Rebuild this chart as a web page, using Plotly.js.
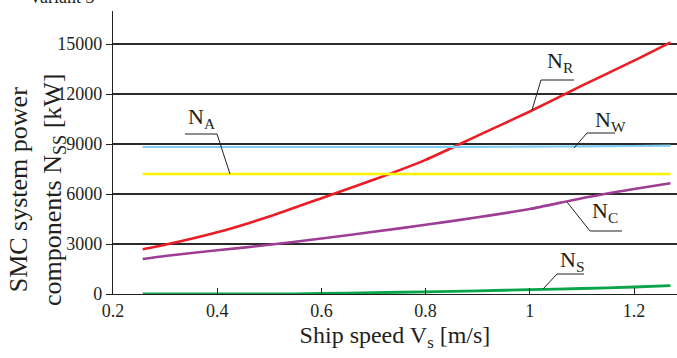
<!DOCTYPE html>
<html>
<head>
<meta charset="utf-8">
<script src="https://cdn.plot.ly/plotly-3.0.1.min.js"></script>
<style>html,body{margin:0;padding:0;background:#fff;}#chart{width:677px;height:358px;}</style>
</head>
<body>
<div id="chart"></div>
<script>
// ---- data ----
const speed = [0.257, 0.3, 0.4, 0.5, 0.6, 0.7, 0.8, 0.9, 1.0, 1.1, 1.2, 1.27];
const N_R = [2680, 2950, 3700, 4650, 5750, 6850, 8050, 9500, 10950, 12500, 14000, 15100];
const N_W = [8820, 8820, 8820, 8820, 8820, 8820, 8820, 8830, 8840, 8860, 8880, 8900];
const N_A = [7200, 7200, 7200, 7200, 7200, 7200, 7200, 7200, 7200, 7200, 7200, 7200];
const N_C = [2100, 2280, 2620, 2950, 3330, 3730, 4150, 4600, 5100, 5750, 6300, 6650];
const N_S = [0, 0, 0, 0, 30, 80, 130, 190, 260, 330, 420, 500];
const seriesNames = ['N<sub>R</sub>', 'N<sub>W</sub>', 'N<sub>A</sub>', 'N<sub>C</sub>', 'N<sub>S</sub>'];
const yTicks = [0, 3000, 6000, 9000, 12000, 15000];
const xTicks = [0.2, 0.4, 0.6, 0.8, 1, 1.2];

// ---- layout geometry (pixels) ----
const W = 677, H = 358, ML = 113, MR = 0, MT = 11, MB = 64;
const plotW = W - ML - MR, plotH = H - MT - MB;
const xr = [0.2, 0.2 + plotW / 521];
const yr = [0, plotH * 60];
function px2x(px){ return xr[0] + (px - ML) / plotW * (xr[1] - xr[0]); }
function py2y(py){ return yr[0] + (H - MB - py) / plotH * (yr[1] - yr[0]); }

const colors = ['#ec1c24', '#7fcdf2', '#fff200', '#9e3d94', '#0aa44a'];
const vals = [N_R, N_W, N_A, N_C, N_S];
const widths = [2.6, 2.2, 2.6, 2.6, 2.8];
const traces = vals.map((v, i) => ({
  x: speed, y: v, type: 'scatter', mode: 'lines', name: seriesNames[i],
  line: {color: colors[i], width: widths[i], shape: 'spline', smoothing: 0.6},
  hoverinfo: 'skip'
}));

// label placement (pixels): text centre and leader polyline
const labelPos = [
  {t: [560, 62], path: [[574, 80], [541, 80], [532, 110]]},
  {t: [610, 121], path: [[615, 133], [587, 133], [574, 148]]},
  {t: [201, 118], path: [[185, 134], [217, 134], [230, 174]]},
  {t: [605, 212], path: [[567, 202], [590, 231], [622, 231]]},
  {t: [572, 261], path: [[584, 274], [557, 274], [543, 289]]}
];
const font = '"Liberation Serif", "Times New Roman", serif';
const ink = '#231f20';
const annotations = labelPos.map((p, i) => ({
  x: px2x(p.t[0]), y: py2y(p.t[1]), xref: 'x', yref: 'y', xanchor: 'center', yanchor: 'middle',
  text: seriesNames[i], showarrow: false, font: {family: font, size: 22, color: ink}
}));
annotations.push({
  x: (37 - ML) / plotW, y: (H - MB - 190) / plotH, xref: 'paper', yref: 'paper',
  xanchor: 'center', yanchor: 'middle',
  text: 'SMC system power<br>components N<sub>SS</sub> [kW]', textangle: -90,
  showarrow: false, font: {family: font, size: 26, color: ink}
});
annotations.push({
  x: (61 - ML) / plotW, y: (H - MB - 9) / plotH, xref: 'paper', yref: 'paper',
  xanchor: 'center', yanchor: 'bottom', text: 'Variant 3', showarrow: false,
  font: {family: font, size: 18, color: ink}
});
const shapes = labelPos.map(p => ({
  type: 'path', xref: 'x', yref: 'y',
  path: p.path.map((q, k) => (k ? 'L' : 'M') + px2x(q[0]) + ',' + py2y(q[1])).join(' '),
  line: {color: ink, width: 1}
}));

const layout = {
  width: W, height: H, margin: {l: ML, r: MR, t: MT, b: MB, pad: 0},
  paper_bgcolor: '#fff', plot_bgcolor: '#fff', showlegend: false,
  font: {family: font, color: ink, size: 17},
  xaxis: {
    range: xr, tickvals: xTicks, ticks: 'inside', ticklen: 6, tickcolor: ink,
    showline: true, linecolor: ink, linewidth: 1.2, showgrid: false, zeroline: false,
    tickfont: {family: font, size: 18, color: ink},
    title: {text: 'Ship speed V<sub>s</sub> [m/s]', font: {family: font, size: 24, color: ink}, standoff: 6}
  },
  yaxis: {
    range: yr, tickvals: yTicks, tickformat: 'd', ticks: 'outside', ticklen: 6, tickcolor: ink,
    showline: true, linecolor: ink, linewidth: 1.2, showgrid: true, gridcolor: '#2b2b2b', gridwidth: 1.2,
    zeroline: false, tickfont: {family: font, size: 18, color: ink}
  },
  annotations: annotations, shapes: shapes
};
Plotly.newPlot('chart', traces, layout, {displayModeBar: false, staticPlot: true});
</script>
</body>
</html>
